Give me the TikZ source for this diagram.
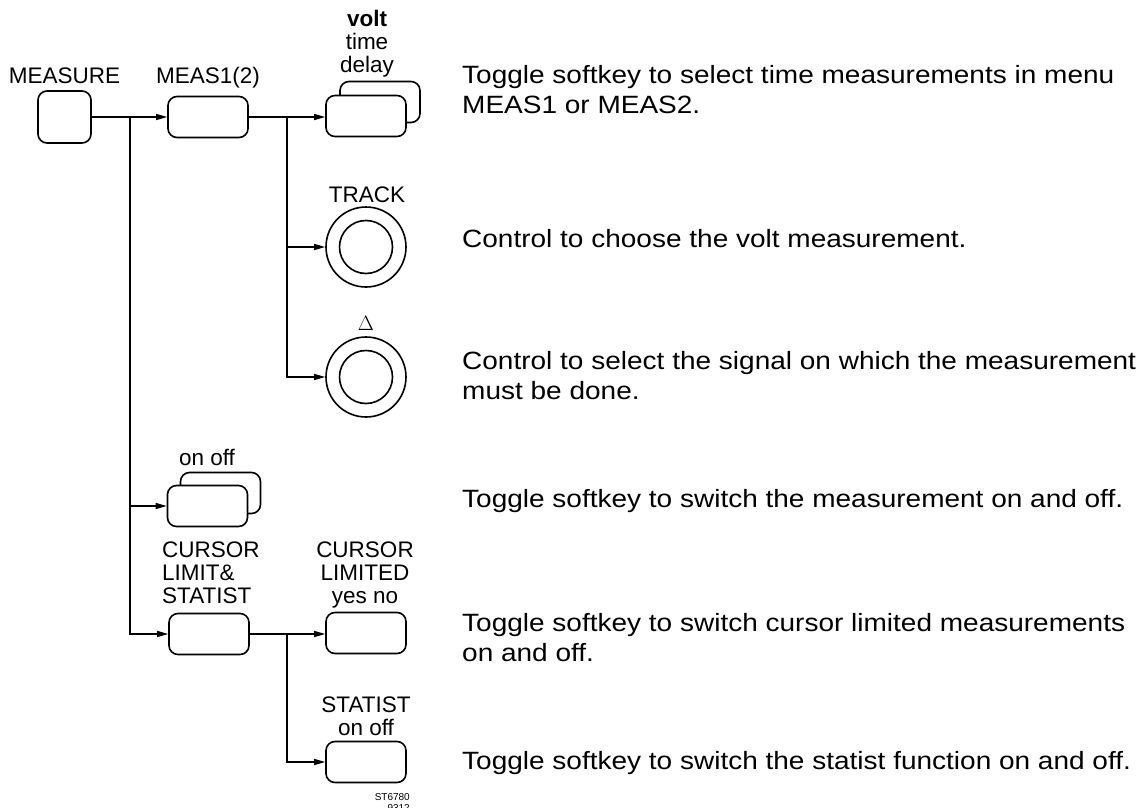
\documentclass[tikz,border=0pt]{standalone}
\usepackage{fontspec}
\setmainfont{Liberation Sans}
\newfontfamily\bodyfont[FakeStretch=1.12]{Liberation Sans}
\usetikzlibrary{arrows.meta}
\begin{document}
\begin{tikzpicture}[x=1pt,y=-1pt,
  key/.style={draw, line width=1.6pt, rounded corners=9pt, minimum width=80pt, minimum height=41pt, inner sep=0pt, fill=white},
  knob/.style={draw, circle, line width=1.6pt, minimum size=80pt, inner sep=0pt},
  lbl/.style={font=\fontsize{22.5}{23}\selectfont, inner sep=0pt, align=center},
  desc/.style={font=\bodyfont\fontsize{25}{30}\selectfont, inner sep=0pt, align=left, anchor=base west},
  conn/.style={line width=1.3pt},
  arr/.style={conn, -{Triangle[length=11pt,width=6pt]}},
]
\useasboundingbox (0,0) rectangle (1140,808);

% keys and knobs
\node[key, minimum width=53pt, minimum height=52pt] (measure) at (64.5,117) {};
\node[key] (meas) at (208,117) {};
\node[key] (voltback) at (380,102) {};
\node[key] (volt) at (366,116) {};
\node[knob] (track) at (366,247) {};
\draw[line width=1.6pt] (track.center) circle (26.5);
\node[knob] (delta) at (366,377) {};
\draw[line width=1.6pt] (delta.center) circle (26.5);
\node[key] (onoffback) at (220.5,493) {};
\node[key] (onoff) at (207.5,506) {};
\node[key] (cursor) at (209,634) {};
\node[key] (curlim) at (366,633) {};
\node[key] (statist) at (366,762) {};

% junctions
\coordinate (j1) at (130,117);
\coordinate (j3) at (287,117);
\coordinate (j4) at (287,634);

% connectors
\draw[arr] (measure.east) -- (meas.west);
\draw[arr] (j1) |- (cursor.west);
\draw[arr] (j1 |- onoff.west) -- (onoff.west);
\draw[arr] (meas.east) -- (meas.east -| volt.west);
\draw[arr] (j3) |- (delta.west);
\draw[arr] (j3 |- track.west) -- (track.west);
\draw[arr] (cursor.east) -- (cursor.east -| curlim.west);
\draw[arr] (j4) |- (statist.west);

% labels (base anchor = baseline of last line)
\node[lbl, anchor=base] (lmeasure) at (64.5,83) {MEASURE};
\node[lbl, anchor=base] (lmeas) at (208,83) {MEAS1(2)};
\node[lbl, anchor=base] (lvolt) at (367,73) {\textbf{volt}\\time\\delay};
\node[lbl, anchor=base] (ltrack) at (367,202) {TRACK};
\node[anchor=base, inner sep=0pt, font=\fontsize{20}{20}\selectfont] (ldelta) at (366,330) {$\Delta$};
\node[lbl, anchor=base] (lonoff) at (207,465) {on off};
\node[lbl, anchor=base west, align=left] (lcursor) at (162,603) {CURSOR\\LIMIT\&\\STATIST};
\node[lbl, anchor=base] (lcurlim) at (365,603) {CURSOR\\LIMITED\\yes no};
\node[lbl, anchor=base] (lstat) at (366,735) {STATIST\\on off};
\node[anchor=base east, align=right, inner sep=0pt, font=\fontsize{10}{11}\selectfont] (code) at (410,811) {ST6780\\9312};

% descriptions
\node[desc] (d1) at (462,113) {Toggle softkey to select time measurements in menu\\MEAS1 or MEAS2.};
\node[desc] (d2) at (462,247) {Control to choose the volt measurement.};
\node[desc] (d3) at (462,399) {Control to select the signal on which the measurement\\must be done.};
\node[desc] (d4) at (462,507) {Toggle softkey to switch the measurement on and off.};
\node[desc] (d5) at (462,661) {Toggle softkey to switch cursor limited measurements\\on and off.};
\node[desc] (d6) at (462,769) {Toggle softkey to switch the statist function on and off.};
\end{tikzpicture}
\end{document}
